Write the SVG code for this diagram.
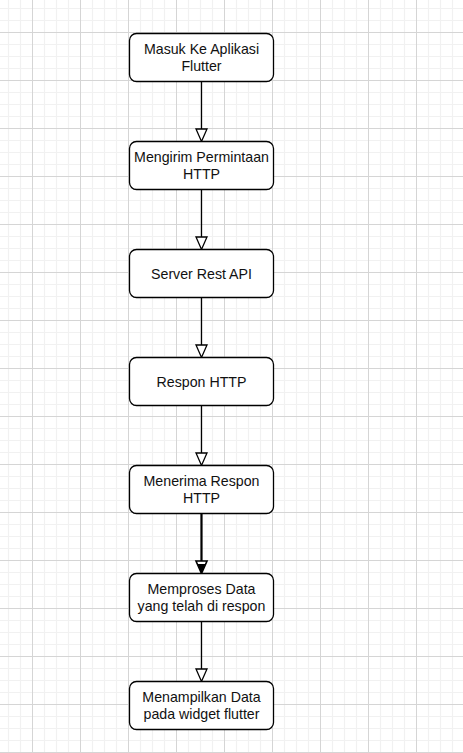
<svg xmlns="http://www.w3.org/2000/svg" width="463" height="753" viewBox="0 0 463 753">
<style>
.node rect{fill:#ffffff;stroke:#000000;stroke-width:1.3}
.node text{font-family:"Liberation Sans",Arial,sans-serif;font-size:14.2px;fill:#111111;text-anchor:middle}
.edge line{stroke:#000000;stroke-width:1.3}
.head{fill:#ffffff;stroke:#000000;stroke-width:1.3;stroke-linejoin:miter}
</style>
<defs>
<pattern id="grid" patternUnits="userSpaceOnUse" x="32" y="32" width="48" height="48">
<path d="M12.5 0V48M24.5 0V48M36.5 0V48M0 12.5H48M0 24.5H48M0 36.5H48" stroke="#f1f1f1" stroke-width="1.2" fill="none"/>
<path d="M0.5 0V48M0 0.5H48" stroke="#d5d5d5" stroke-width="1" fill="none"/>
</pattern>
</defs>
<rect x="0" y="0" width="463" height="753" fill="#ffffff"/>
<rect x="0" y="0" width="463" height="753" fill="url(#grid)"/>
<g id="connectors" class="edge">
<line x1="201.5" y1="81.5" x2="201.5" y2="129"/>
<polygon class="head" points="196,129 207,129 201.5,141.5"/>
<line x1="201.5" y1="189.5" x2="201.5" y2="237"/>
<polygon class="head" points="196,237 207,237 201.5,249.5"/>
<line x1="201.5" y1="297.5" x2="201.5" y2="345"/>
<polygon class="head" points="196,345 207,345 201.5,357.5"/>
<line x1="201.5" y1="405.5" x2="201.5" y2="453"/>
<polygon class="head" points="196,453 207,453 201.5,465.5"/>
<line x1="201.5" y1="513.5" x2="201.5" y2="561" style="stroke-width:2.2"/>
<polygon class="head" points="196,561 207,561 201.5,573.5" style="stroke-width:1.6"/>
<polygon points="197.5,564 205.5,564 201.5,573.5" fill="#000000"/>
<line x1="201.5" y1="621.5" x2="201.5" y2="669"/>
<polygon class="head" points="196,669 207,669 201.5,681.5"/>
</g>
<g id="n1" class="node">
<rect x="129.5" y="33.5" width="144" height="48" rx="7"/>
<text x="201.5" y="53.5">Masuk Ke Aplikasi</text>
<text x="201.5" y="70.5">Flutter</text>
</g>
<g id="n2" class="node">
<rect x="129.5" y="141.5" width="144" height="48" rx="7"/>
<text x="201.5" y="161.5">Mengirim Permintaan</text>
<text x="201.5" y="178.5">HTTP</text>
</g>
<g id="n3" class="node">
<rect x="129.5" y="249.5" width="144" height="48" rx="7"/>
<text x="201.5" y="278.5">Server Rest API</text>
</g>
<g id="n4" class="node">
<rect x="129.5" y="357.5" width="144" height="48" rx="7"/>
<text x="201.5" y="386.5">Respon HTTP</text>
</g>
<g id="n5" class="node">
<rect x="129.5" y="465.5" width="144" height="48" rx="7"/>
<text x="201.5" y="485.5">Menerima Respon</text>
<text x="201.5" y="502.5">HTTP</text>
</g>
<g id="n6" class="node">
<rect x="129.5" y="573.5" width="144" height="48" rx="7"/>
<text x="201.5" y="593.5">Memproses Data</text>
<text x="201.5" y="610.5">yang telah di respon</text>
</g>
<g id="n7" class="node">
<rect x="129.5" y="681.5" width="144" height="48" rx="7"/>
<text x="201.5" y="701.5">Menampilkan Data</text>
<text x="201.5" y="718.5">pada widget flutter</text>
</g>
</svg>
